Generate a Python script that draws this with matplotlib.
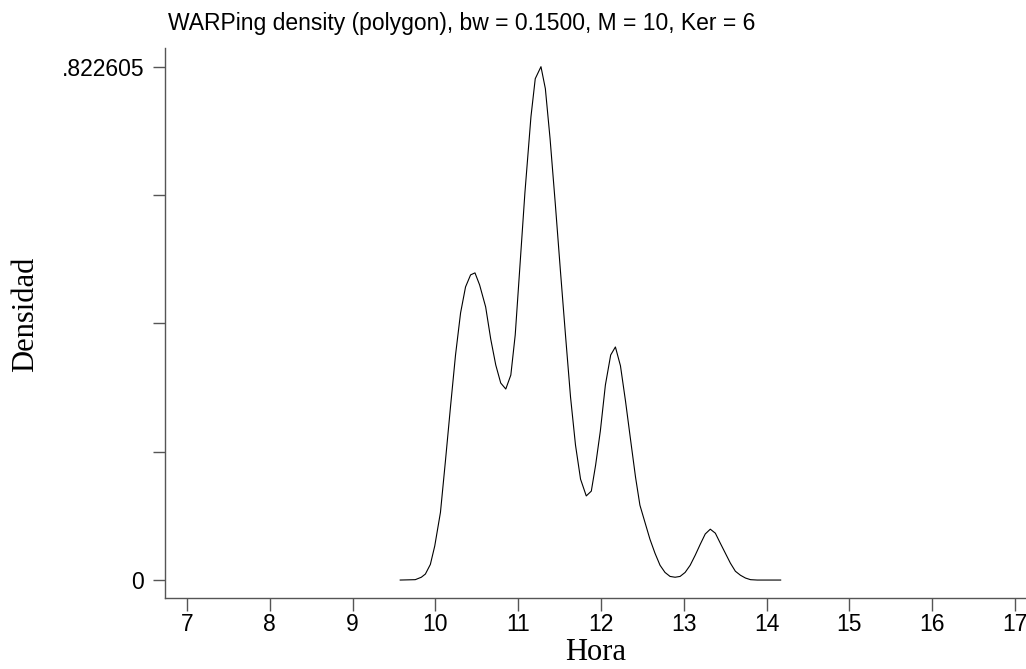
import matplotlib.pyplot as plt
import numpy as np

# WARPing density polygon (hora, densidad)
hora = [9.575, 9.757, 9.830, 9.879, 9.939, 9.992, 10.061, 10.121, 10.182,
        10.243, 10.304, 10.364, 10.425, 10.478, 10.534, 10.607, 10.668,
        10.729, 10.789, 10.850, 10.911, 10.964, 11.012, 11.081, 11.154,
        11.206, 11.275, 11.328, 11.385, 11.449, 11.510, 11.571, 11.632,
        11.692, 11.753, 11.822, 11.883, 11.935, 11.992, 12.053, 12.117,
        12.174, 12.235, 12.296, 12.356, 12.417, 12.470, 12.534, 12.591,
        12.652, 12.713, 12.773, 12.834, 12.895, 12.955, 13.016, 13.077,
        13.138, 13.198, 13.259, 13.320, 13.381, 13.441, 13.502, 13.563,
        13.623, 13.684, 13.745, 13.806, 13.887, 14.170]
densidad = [0.0, 0.0006, 0.0045, 0.0096, 0.0250, 0.0545, 0.1084, 0.1906,
            0.2772, 0.3606, 0.4280, 0.4697, 0.4890, 0.4922, 0.4729, 0.4376,
            0.3863, 0.3446, 0.3157, 0.3061, 0.3285, 0.3927, 0.4858, 0.6205,
            0.7424, 0.8034, 0.822605, 0.7874, 0.7071, 0.6013, 0.4954, 0.3927,
            0.2933, 0.2163, 0.1617, 0.1348, 0.1425, 0.1842, 0.2387, 0.3125,
            0.3606, 0.3735, 0.3433, 0.2868, 0.2259, 0.1649, 0.1200, 0.0911,
            0.0655, 0.0430, 0.0237, 0.0122, 0.0058, 0.0045, 0.0058, 0.0122,
            0.0237, 0.0398, 0.0571, 0.0738, 0.0815, 0.0751, 0.0590, 0.0430,
            0.0270, 0.0141, 0.0077, 0.0032, 0.0006, 0.0, 0.0]

x_ticks = list(range(7, 18))
y_max = 0.822605
y_ticks = [0, y_max / 4, y_max / 2, 3 * y_max / 4, y_max]
y_labels = ["0", "", "", "", ".822605"]

title = "WARPing density (polygon), bw = 0.1500, M = 10, Ker = 6"


def main() -> None:
    fig = plt.figure(figsize=(10.26, 6.69), dpi=100)
    ax = fig.add_axes([0.1608, 0.1061, 0.8392, 0.8222])

    ax.plot(hora, densidad, color="black", linewidth=0.8)

    ax.set_xlim(6.734, 17.133)
    ax.set_ylim(-0.0288, 0.8526)

    for side in ["top", "right"]:
        ax.spines[side].set_visible(False)
    for side in ["left", "bottom"]:
        ax.spines[side].set_color("#555555")
        ax.spines[side].set_linewidth(1.0)

    ax.set_xticks(x_ticks)
    ax.set_xticklabels([str(t) for t in x_ticks],
                       fontfamily="Liberation Sans", fontsize=16.5)
    ax.set_yticks(y_ticks)
    ax.set_yticklabels(y_labels, fontfamily="Liberation Sans", fontsize=16.5)
    ax.tick_params(axis="both", length=9, width=1.0, color="#555555")
    ax.tick_params(axis="x", pad=2)
    ax.tick_params(axis="y", pad=6)

    ax.set_xlabel("Hora", fontfamily="Liberation Serif", fontsize=22,
                  labelpad=1)
    ax.set_ylabel("Densidad", fontfamily="Liberation Serif", fontsize=22,
                  labelpad=15.5)
    ax.yaxis.label.set_y(0.515)

    fig.text(0.1637, 0.9552, title, fontfamily="Liberation Sans",
             fontsize=16.5, va="baseline", ha="left")

    fig.savefig("out.png", dpi=100)


if __name__ == "__main__":
    main()
